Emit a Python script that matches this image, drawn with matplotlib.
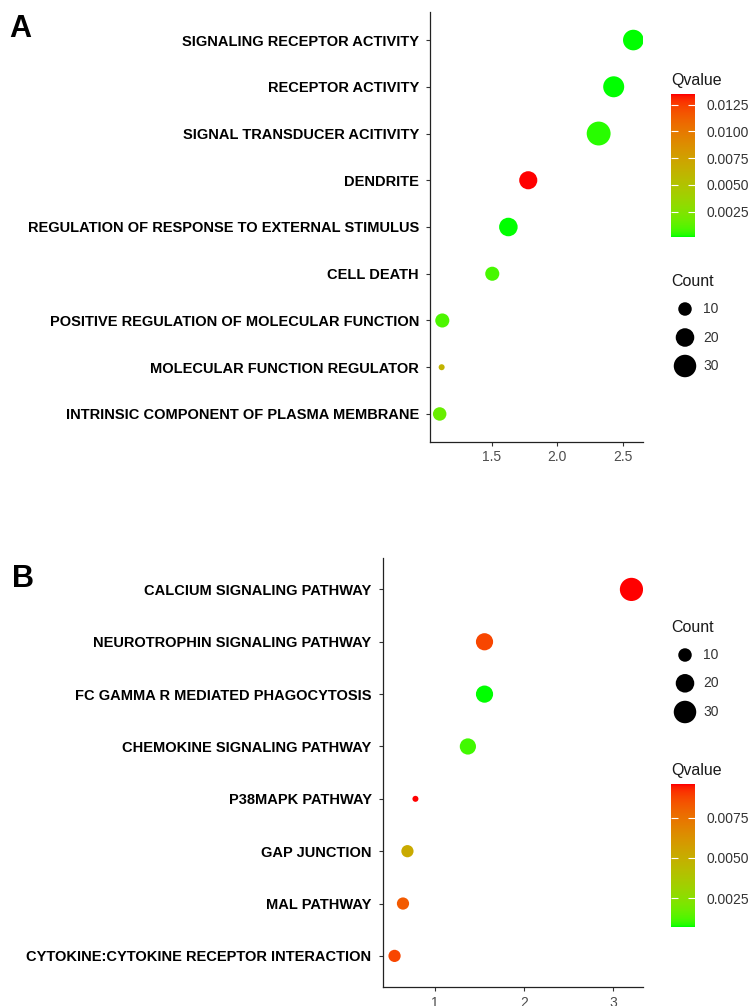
import numpy as np
import matplotlib
matplotlib.use("Agg")
import matplotlib.pyplot as plt
from matplotlib.colors import ListedColormap, Normalize

plt.rcParams['font.family'] = ['Liberation Sans', 'DejaVu Sans']

# ---------------- data ----------------
terms_a = ["SIGNALING RECEPTOR ACTIVITY", "RECEPTOR ACTIVITY", "SIGNAL TRANSDUCER ACITIVITY",
           "DENDRITE", "REGULATION OF RESPONSE TO EXTERNAL STIMULUS", "CELL DEATH",
           "POSITIVE REGULATION OF MOLECULAR FUNCTION", "MOLECULAR FUNCTION REGULATOR",
           "INTRINSIC COMPONENT OF PLASMA MEMBRANE"]
score_a = [2.58, 2.43, 2.315, 1.777, 1.625, 1.502, 1.12, 1.115, 1.10]
count_a = [25, 26, 34, 19, 20, 11, 11, 1, 10]
qvalue_a = [0.00015, 0.0002, 0.0004, 0.0135, 0.0002, 0.0008, 0.0009, 0.0062, 0.0016]
qticks_a = [0.0025, 0.0050, 0.0075, 0.0100, 0.0125]

terms_b = ["CALCIUM SIGNALING PATHWAY", "NEUROTROPHIN SIGNALING PATHWAY",
           "FC GAMMA R MEDIATED PHAGOCYTOSIS", "CHEMOKINE SIGNALING PATHWAY",
           "P38MAPK PATHWAY", "GAP JUNCTION", "MAL PATHWAY",
           "CYTOKINE:CYTOKINE RECEPTOR INTERACTION"]
score_b = [3.21, 1.557, 1.557, 1.37, 0.78, 0.69, 0.64, 0.545]
count_b = [32, 17, 17, 15, 1, 8, 8, 8]
qvalue_b = [0.0096, 0.0088, 0.00072, 0.0011, 0.0096, 0.0052, 0.0083, 0.0088]
qticks_b = [0.0025, 0.0050, 0.0075]

legend_counts = [10, 20, 30]

# ---------------- colour map (Lab interpolation green -> red, like ggplot) ----------------
def srgb_to_lab(rgb):
    rgb = np.asarray(rgb, float)
    lin = np.where(rgb <= 0.04045, rgb / 12.92, ((rgb + 0.055) / 1.055) ** 2.4)
    M = np.array([[0.4124564, 0.3575761, 0.1804375],
                  [0.2126729, 0.7151522, 0.0721750],
                  [0.0193339, 0.1191920, 0.9503041]])
    xyz = M @ lin / np.array([0.95047, 1.0, 1.08883])
    d = 6 / 29
    f = np.where(xyz > d ** 3, np.cbrt(xyz), xyz / (3 * d * d) + 4 / 29)
    return np.array([116 * f[1] - 16, 500 * (f[0] - f[1]), 200 * (f[1] - f[2])])

def lab_to_srgb(lab):
    L, a, b = lab
    fy = (L + 16) / 116
    fx = fy + a / 500
    fz = fy - b / 200
    d = 6 / 29
    def finv(t):
        return np.where(t > d, t ** 3, 3 * d * d * (t - 4 / 29))
    xyz = np.array([finv(fx), finv(fy), finv(fz)]) * np.array([0.95047, 1.0, 1.08883])
    Minv = np.array([[3.2404542, -1.5371385, -0.4985314],
                     [-0.9692660, 1.8760108, 0.0415560],
                     [0.0556434, -0.2040259, 1.0572252]])
    lin = np.clip(Minv @ xyz, 0, 1)
    rgb = np.where(lin <= 0.0031308, 12.92 * lin, 1.055 * lin ** (1 / 2.4) - 0.055)
    return np.clip(rgb, 0, 1)

lab_lo = srgb_to_lab([0, 1, 0])
lab_hi = srgb_to_lab([1, 0, 0])
cols = [lab_to_srgb(lab_lo + (lab_hi - lab_lo) * t) for t in np.linspace(0, 1, 256)]
cmap = ListedColormap(cols)

W, H = 755, 1006
DPI = 100
fig = plt.figure(figsize=(W / DPI, H / DPI), dpi=DPI)

def px_box(x0, y0, x1, y1):
    return [x0 / W, 1 - y1 / H, (x1 - x0) / W, (y1 - y0) / H]

def size_pts(c):
    d_px = np.sqrt(20 + 16.2 * np.asarray(c, float))
    return (d_px * 72 / DPI) ** 2

TICK_GRAY = '#4d4d4d'

def dotplot(box, terms, score, count, qv):
    ax = fig.add_axes(box)
    n = len(terms)
    y = np.arange(n, 0, -1)
    norm = Normalize(vmin=min(qv), vmax=max(qv))
    ax.scatter(score, y, s=size_pts(count), c=qv, cmap=cmap, norm=norm,
               edgecolors='none', zorder=3)
    ax.set_ylim(0.4, n + 0.6)
    lo, hi = min(score), max(score)
    ex = (hi - lo) * 0.05
    ax.set_xlim(lo - ex, hi + ex)
    ax.set_yticks(y)
    ax.set_yticklabels(terms, fontsize=10.5, fontweight='bold', color='black')
    for s in ['top', 'right']:
        ax.spines[s].set_visible(False)
    for s in ['left', 'bottom']:
        ax.spines[s].set_linewidth(0.9)
        ax.spines[s].set_color('#222222')
    ax.tick_params(axis='both', length=3, width=0.8, color='#333333')
    ax.tick_params(axis='x', labelsize=10, labelcolor=TICK_GRAY, pad=3)
    ax.tick_params(axis='y', pad=5)
    return ax, norm

def colorbar(box, norm, ticks):
    cax = fig.add_axes(box)
    grad = np.linspace(norm.vmin, norm.vmax, 300).reshape(-1, 1)
    cax.imshow(grad, aspect='auto', cmap=cmap, norm=norm, origin='lower',
               extent=[0, 1, norm.vmin, norm.vmax])
    cax.set_xlim(0, 1)
    cax.set_ylim(norm.vmin, norm.vmax)
    cax.set_xticks([])
    cax.set_yticks(ticks)
    cax.set_yticklabels([f"{t:.4f}" for t in ticks])
    for s in cax.spines.values():
        s.set_visible(False)
    cax.tick_params(axis='y', left=True, right=True, labelleft=False, labelright=True,
                    direction='in', color='white', length=5, width=0.8,
                    labelsize=10, labelcolor='#333333', pad=8)
    return cax

def count_legend(title_y, item_ys):
    fig.text(671 / W, 1 - title_y / H, "Count", fontsize=11.5, color='#1a1a1a',
             ha='left', va='center')
    lax = fig.add_axes([0, 0, 1, 1], facecolor='none')
    lax.set_xlim(0, W)
    lax.set_ylim(H, 0)
    lax.axis('off')
    lax.scatter([685] * len(legend_counts), item_ys, s=size_pts(legend_counts),
                color='black', edgecolors='none')
    for c, yy in zip(legend_counts, item_ys):
        lax.text(703, yy, str(c), fontsize=10, color='#333333', ha='left', va='center')

# ---------- panel A ----------
axA, normA = dotplot(px_box(430, 12, 643, 442), terms_a, score_a, count_a, qvalue_a)
axA.set_xticks([1.5, 2.0, 2.5])
axA.set_xticklabels(["1.5", "2.0", "2.5"])
fig.text(671 / W, 1 - 80 / H, "Qvalue", fontsize=11.5, color='#1a1a1a', ha='left', va='center')
colorbar(px_box(671, 94, 695, 236.7), normA, qticks_a)
count_legend(282, [309, 337.5, 366])
fig.text(9 / W, 1 - 37.3 / H, "A", fontsize=22, fontweight='bold', ha='left', va='baseline')

# ---------- panel B ----------
axB, normB = dotplot(px_box(382.7, 558, 643.3, 987.3), terms_b, score_b, count_b, qvalue_b)
axB.set_xticks([1, 2, 3])
axB.set_xticklabels(["1", "2", "3"])
count_legend(627, [655, 683.3, 712])
fig.text(671 / W, 1 - 770.5 / H, "Qvalue", fontsize=11.5, color='#1a1a1a', ha='left', va='center')
colorbar(px_box(671, 784, 695, 926.7), normB, qticks_b)
fig.text(12 / W, 1 - 586.7 / H, "B", fontsize=22, fontweight='bold', ha='left', va='baseline')

fig.savefig("out.png", dpi=DPI)
